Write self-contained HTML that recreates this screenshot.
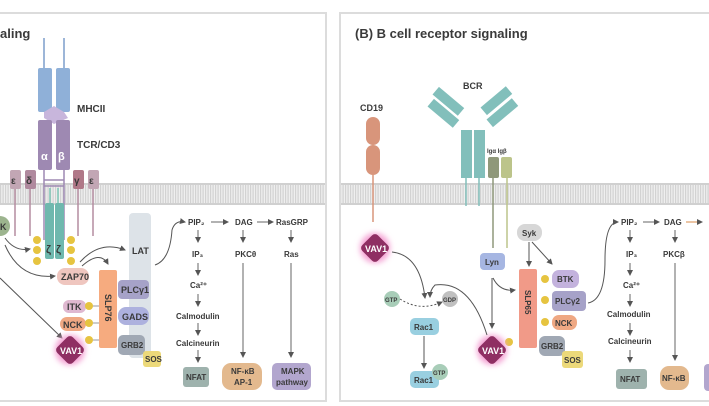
<!DOCTYPE html>
<html><head><meta charset="utf-8"><style>
body{margin:0;background:#fff}
svg{display:block}
text{font-family:"Liberation Sans",sans-serif;font-weight:bold;fill:#3a3a3a}
</style></head><body>
<svg width="709" height="406" viewBox="0 0 709 406" xmlns="http://www.w3.org/2000/svg">
<defs>
<pattern id="mem" width="2.5" height="22" patternUnits="userSpaceOnUse">
<rect width="2.5" height="22" fill="#efefef"/><rect width="1.2" height="22" fill="#d2d2d2"/>
</pattern>
<marker id="a" markerWidth="6" markerHeight="6" refX="5" refY="3" orient="auto"><path d="M0,0L6,3L0,6z" fill="#555"/></marker>
<filter id="glow" x="-50%" y="-50%" width="200%" height="200%"><feGaussianBlur stdDeviation="3"/></filter>
</defs>
<rect x="-5" y="13" width="331" height="388" fill="#fff" stroke="#dcdcdc" stroke-width="2"/>
<rect x="340" y="13" width="380" height="388" fill="#fff" stroke="#dcdcdc" stroke-width="2"/>
<rect x="0" y="183" width="325" height="22" fill="url(#mem)"/>
<rect x="341" y="183" width="368" height="22" fill="url(#mem)"/>
<g fill="#d0d0d0"><rect x="0" y="183" width="325" height="2"/><rect x="0" y="203" width="325" height="2"/><rect x="341" y="183" width="368" height="2"/><rect x="341" y="203" width="368" height="2"/></g>
<text x="0" y="38" font-size="13">aling</text>
<text x="355" y="38" font-size="13">(B) B cell receptor signaling</text>

<g stroke="#9db6d8" stroke-width="2"><line x1="44" y1="38" x2="44" y2="70"/><line x1="64" y1="38" x2="64" y2="70"/></g>
<rect x="38" y="68" width="14" height="44" rx="2" fill="#8fb0d8"/>
<rect x="56" y="68" width="14" height="44" rx="2" fill="#8fb0d8"/>
<polygon points="44,112 54,106 64,112 68,118 54,124 44,118" fill="#c8b6dc"/>
<text x="77" y="112" font-size="10">MHCII</text>
<rect x="38" y="120" width="14" height="50" rx="2" fill="#9e89b2"/>
<rect x="56" y="120" width="14" height="50" rx="2" fill="#9e89b2"/>
<text x="41" y="160" font-size="11" style="fill:#fff">α</text>
<text x="58" y="160" font-size="11" style="fill:#fff">β</text>
<text x="77" y="148" font-size="10">TCR/CD3</text>
<g stroke="#9e89b2" stroke-width="1.5"><line x1="44" y1="170" x2="44" y2="240"/><line x1="64" y1="170" x2="64" y2="240"/><line x1="44" y1="180" x2="64" y2="180"/><line x1="44" y1="186" x2="64" y2="186"/></g>
<g stroke="#7cc4b4" stroke-width="1.5"><line x1="50" y1="188" x2="50" y2="205"/><line x1="58" y1="188" x2="58" y2="205"/></g>
<rect x="10" y="170" width="11" height="19" rx="2" fill="#c2a6b4"/><text x="11" y="184" font-size="10">ε</text>
<rect x="25" y="170" width="11" height="19" rx="2" fill="#b0899e"/><text x="26" y="184" font-size="10">δ</text>
<rect x="73" y="170" width="11" height="19" rx="2" fill="#b07888"/><text x="74" y="184" font-size="10">γ</text>
<rect x="88" y="170" width="11" height="19" rx="2" fill="#c2a6b4"/><text x="89" y="184" font-size="10">ε</text>
<g stroke="#b48ca0" stroke-width="1.5"><line x1="15" y1="189" x2="15" y2="236"/><line x1="30" y1="189" x2="30" y2="236"/><line x1="78" y1="189" x2="78" y2="236"/><line x1="93" y1="189" x2="93" y2="236"/></g>
<rect x="45" y="203" width="9" height="56" rx="2" fill="#6fb8ae"/><rect x="55" y="203" width="9" height="56" rx="2" fill="#6fb8ae"/>
<text x="46" y="253" font-size="11">ζ</text><text x="56" y="253" font-size="11">ζ</text>
<g fill="#e6c440"><circle cx="37" cy="240" r="4"/><circle cx="37" cy="250" r="4"/><circle cx="37" cy="261" r="4"/><circle cx="71" cy="240" r="4"/><circle cx="71" cy="250" r="4"/><circle cx="71" cy="261" r="4"/></g>
<circle cx="0" cy="226" r="10" fill="#9cb48e"/><text x="0" y="230" font-size="9">K</text>
<g fill="none" stroke="#555" stroke-width="1" marker-end="url(#a)">
<path d="M5,238 Q15,252 30,249"/>
<path d="M5,245 Q20,280 55,276"/>
<path d="M80,262 Q100,240 125,250"/>
<path d="M82,266 Q100,250 108,264"/>
<path d="M0,278 L62,338"/>
<path d="M155,265 Q170,260 172,230 Q175,220 185,222"/>
</g>
<rect x="57" y="268" width="32" height="17" rx="8" fill="#efc6bf"/><text x="61" y="280" font-size="9">ZAP70</text>
<rect x="129" y="213" width="22" height="145" rx="4" fill="#dde3e8"/><text x="132" y="254" font-size="9">LAT</text>
<rect x="99" y="270" width="18" height="78" rx="2" fill="#f6ab7f"/>
<text x="0" y="0" font-size="9" transform="translate(105,294) rotate(90)">SLP76</text>
<rect x="118" y="280" width="31" height="19" rx="4" fill="#a6a2c8"/><text x="121" y="293" font-size="9">PLCγ1</text>
<rect x="118" y="307" width="31" height="18" rx="8" fill="#adb1de"/><text x="122" y="320" font-size="9">GADS</text>
<rect x="118" y="335" width="27" height="20" rx="5" fill="#a0a8b4"/><text x="121" y="348" font-size="8">GRB2</text>
<rect x="143" y="351" width="18" height="16" rx="3" fill="#ecd97a"/><text x="145" y="362" font-size="8">SOS</text>
<rect x="63" y="300" width="23" height="13" rx="6" fill="#dfb8d0"/><text x="67" y="310" font-size="9">ITK</text>
<rect x="60" y="317" width="26" height="14" rx="7" fill="#efa883"/><text x="63" y="328" font-size="9">NCK</text>
<g stroke="#999"><line x1="92" y1="306" x2="99" y2="306"/><line x1="92" y1="323" x2="99" y2="323"/><line x1="92" y1="340" x2="99" y2="340"/></g>
<g fill="#e6c440"><circle cx="89" cy="306" r="4"/><circle cx="89" cy="323" r="4"/><circle cx="89" cy="340" r="4"/></g>
<circle cx="70" cy="350" r="15" fill="#f4a3d4" filter="url(#glow)"/>
<rect x="59" y="339" width="22" height="22" rx="4" fill="#8f2f63" transform="rotate(45 70 350)"/>
<text x="60" y="354" font-size="9" style="fill:#fff">VAV1</text>
<g font-size="8">
<text x="188" y="225">PIP₂</text><text x="235" y="225">DAG</text><text x="276" y="225">RasGRP</text>
<text x="192" y="257">IP₃</text><text x="235" y="257">PKCθ</text><text x="284" y="257">Ras</text>
<text x="190" y="288">Ca²⁺</text><text x="176" y="319">Calmodulin</text><text x="176" y="346">Calcineurin</text>
</g>
<g stroke="#666" stroke-width="1" marker-end="url(#a)">
<line x1="211" y1="222" x2="228" y2="222"/><line x1="257" y1="222" x2="273" y2="222"/>
<line x1="198" y1="230" x2="198" y2="242"/><line x1="243" y1="230" x2="243" y2="242"/><line x1="291" y1="230" x2="291" y2="242"/>
<line x1="198" y1="263" x2="198" y2="275"/><line x1="198" y1="294" x2="198" y2="306"/><line x1="198" y1="323" x2="198" y2="335"/><line x1="198" y1="350" x2="198" y2="362"/>
<line x1="243" y1="263" x2="243" y2="357"/><line x1="291" y1="263" x2="291" y2="357"/>
</g>
<rect x="183" y="367" width="26" height="20" rx="3" fill="#9eb2ad"/><text x="186" y="380" font-size="8">NFAT</text>
<rect x="222" y="363" width="40" height="27" rx="9" fill="#e3b98e"/><text x="231" y="374" font-size="8">NF-κB</text><text x="234" y="385" font-size="8">AP-1</text>
<rect x="272" y="363" width="39" height="27" rx="5" fill="#b2a6ce"/><text x="281" y="374" font-size="8">MAPK</text><text x="276" y="385" font-size="8">pathway</text>

<text x="463" y="89" font-size="9">BCR</text>
<text x="360" y="111" font-size="9">CD19</text>
<rect x="366" y="117" width="14" height="28" rx="7" fill="#d8957b"/><rect x="366" y="145" width="14" height="30" rx="7" fill="#d8957b"/>
<line x1="373" y1="175" x2="373" y2="222" stroke="#d8957b" stroke-width="1.5"/>
<g fill="#82bfbb">
<rect x="427" y="108" width="33" height="10" transform="rotate(40 443 113)"/>
<rect x="432" y="96" width="33" height="10" transform="rotate(40 448 101)"/>
<rect x="486" y="108" width="33" height="10" transform="rotate(-40 502 113)"/>
<rect x="480" y="96" width="33" height="10" transform="rotate(-40 496 101)"/>
<rect x="461" y="130" width="11" height="48"/><rect x="474" y="130" width="11" height="48"/>
</g>
<g stroke="#82bfbb" stroke-width="1.5"><line x1="466" y1="178" x2="466" y2="206"/><line x1="479" y1="178" x2="479" y2="206"/></g>
<text x="487" y="153" font-size="6">Igα Igβ</text>
<rect x="488" y="157" width="11" height="21" rx="2" fill="#8f987a"/><rect x="501" y="157" width="11" height="21" rx="2" fill="#bcc48a"/>
<line x1="493" y1="178" x2="493" y2="248" stroke="#8f987a" stroke-width="1.5"/><line x1="507" y1="178" x2="507" y2="248" stroke="#bcc48a" stroke-width="1.5"/>
<rect x="480" y="253" width="25" height="17" rx="4" fill="#a6b6e2"/><text x="485" y="265" font-size="8">Lyn</text>
<rect x="517" y="224" width="25" height="17" rx="8" fill="#d7d7d7"/><text x="522" y="236" font-size="8">Syk</text>
<rect x="519" y="269" width="18" height="79" rx="2" fill="#f19a88"/>
<text x="0" y="0" font-size="8" transform="translate(525,290) rotate(90)">SLP65</text>
<rect x="552" y="270" width="27" height="18" rx="7" fill="#c3b2dd"/><text x="557" y="282" font-size="8">BTK</text>
<rect x="552" y="291" width="34" height="20" rx="4" fill="#a6a2c8"/><text x="555" y="304" font-size="8">PLCγ2</text>
<rect x="552" y="315" width="25" height="15" rx="7" fill="#efa883"/><text x="555" y="326" font-size="8">NCK</text>
<g fill="#e6c440"><circle cx="545" cy="279" r="4"/><circle cx="545" cy="300" r="4"/><circle cx="545" cy="322" r="4"/><circle cx="509" cy="342" r="4"/></g>
<rect x="539" y="336" width="26" height="20" rx="6" fill="#a0a8b4"/><text x="541" y="349" font-size="8">GRB2</text>
<rect x="562" y="351" width="21" height="17" rx="3" fill="#ecd97a"/><text x="564" y="363" font-size="8">SOS</text>
<circle cx="492" cy="350" r="15" fill="#f4a3d4" filter="url(#glow)"/>
<rect x="481" y="339" width="22" height="22" rx="4" fill="#8f2f63" transform="rotate(45 492 350)"/>
<text x="482" y="354" font-size="9" style="fill:#fff">VAV1</text>
<circle cx="375" cy="248" r="15" fill="#f4a3d4" filter="url(#glow)"/>
<rect x="364" y="237" width="22" height="22" rx="4" fill="#8f2f63" transform="rotate(45 375 248)"/>
<text x="365" y="252" font-size="9" style="fill:#fff">VAV1</text>
<circle cx="392" cy="299" r="8" fill="#a8cdb8"/><text x="385" y="302" font-size="6">GTP</text>
<circle cx="450" cy="299" r="8" fill="#c0c0c0"/><text x="443" y="302" font-size="6">GDP</text>
<rect x="410" y="318" width="29" height="17" rx="5" fill="#99cfe0"/><text x="414" y="330" font-size="8">Rac1</text>
<rect x="410" y="371" width="29" height="17" rx="5" fill="#99cfe0"/><text x="414" y="383" font-size="8">Rac1</text>
<circle cx="440" cy="372" r="8" fill="#a8cdb8"/><text x="433" y="375" font-size="6">GTP</text>
<g fill="none" stroke="#555" stroke-width="1" marker-end="url(#a)">
<path d="M392,252 Q420,255 425,298"/>
<path d="M487,335 Q470,280 435,285 Q430,290 430,297"/>
<path d="M400,299 Q420,312 442,302" stroke-dasharray="2,2"/>
<line x1="424" y1="336" x2="424" y2="368"/>
<line x1="492" y1="278" x2="492" y2="328"/>
<path d="M493,278 Q500,292 515,290"/>
<line x1="529" y1="242" x2="529" y2="266"/>
<line x1="532" y1="242" x2="552" y2="264"/>
<path d="M588,303 Q605,300 605,260 Q605,222 618,222"/>
</g>
<g font-size="8">
<text x="621" y="225">PIP₂</text><text x="664" y="225">DAG</text>
<text x="626" y="257">IP₃</text><text x="663" y="257">PKCβ</text>
<text x="623" y="288">Ca²⁺</text><text x="607" y="317">Calmodulin</text><text x="608" y="344">Calcineurin</text>
</g>
<g stroke="#666" stroke-width="1" marker-end="url(#a)">
<line x1="643" y1="222" x2="659" y2="222"/><line x1="686" y1="222" x2="702" y2="222" stroke="#d98b4a"/>
<line x1="630" y1="230" x2="630" y2="242"/><line x1="675" y1="230" x2="675" y2="242"/>
<line x1="630" y1="263" x2="630" y2="275"/><line x1="630" y1="294" x2="630" y2="306"/><line x1="630" y1="323" x2="630" y2="335"/><line x1="630" y1="350" x2="630" y2="362"/>
<line x1="675" y1="263" x2="675" y2="360"/>
</g>
<rect x="616" y="369" width="31" height="20" rx="3" fill="#9eb2ad"/><text x="620" y="382" font-size="8">NFAT</text>
<rect x="660" y="366" width="29" height="24" rx="9" fill="#e3b98e"/><text x="662" y="381" font-size="8">NF-κB</text>
<rect x="704" y="364" width="10" height="27" rx="4" fill="#b2a6ce"/>
</svg>
</body></html>
